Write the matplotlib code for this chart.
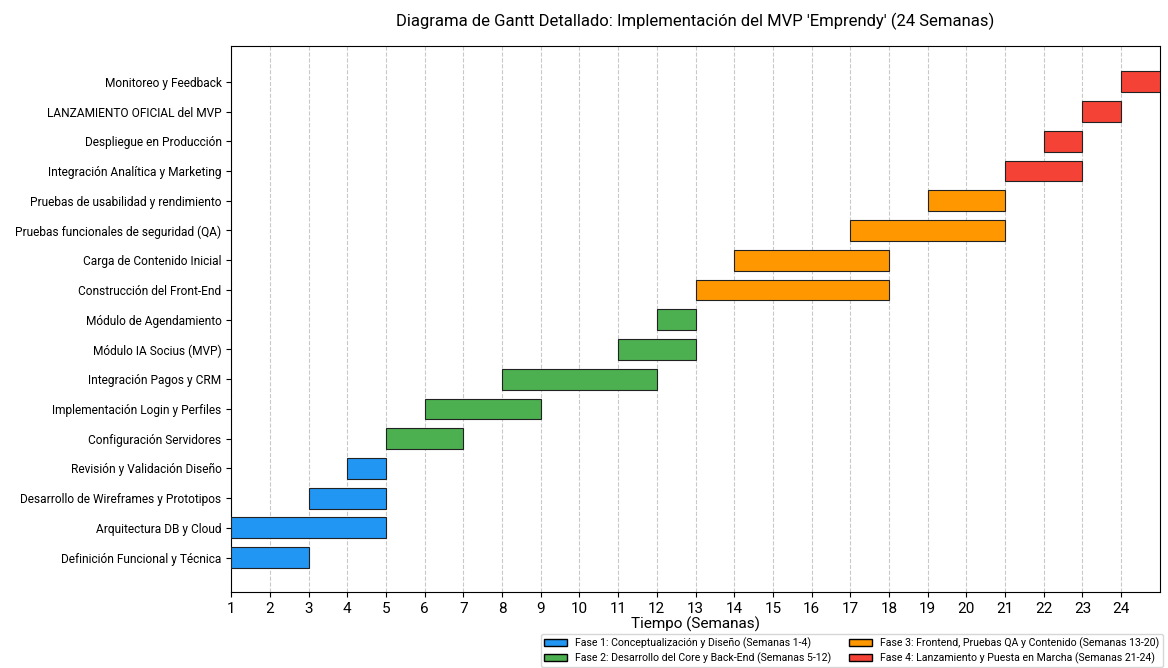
import matplotlib
matplotlib.use("Agg")
import matplotlib.pyplot as plt
from matplotlib.patches import Patch

plt.rcParams['font.family'] = ['Roboto', 'DejaVu Sans']

tasks = [
    "Definición Funcional y Técnica",
    "Arquitectura DB y Cloud",
    "Desarrollo de Wireframes y Prototipos",
    "Revisión y Validación Diseño",
    "Configuración Servidores",
    "Implementación Login y Perfiles",
    "Integración Pagos y CRM",
    "Módulo IA Socius (MVP)",
    "Módulo de Agendamiento",
    "Construcción del Front-End",
    "Carga de Contenido Inicial",
    "Pruebas funcionales de seguridad (QA)",
    "Pruebas de usabilidad y rendimiento",
    "Integración Analítica y Marketing",
    "Despliegue en Producción",
    "LANZAMIENTO OFICIAL del MVP",
    "Monitoreo y Feedback",
]
starts = [1, 1, 3, 4, 5, 6, 8, 11, 12, 13, 14, 17, 19, 21, 22, 23, 24]
ends = [3, 5, 5, 5, 7, 9, 12, 13, 13, 18, 18, 21, 21, 23, 23, 24, 25]
phases = [1, 1, 1, 1, 2, 2, 2, 2, 2, 3, 3, 3, 3, 4, 4, 4, 4]

phase_labels = [
    "Fase 1: Conceptualización y Diseño (Semanas 1-4)",
    "Fase 2: Desarrollo del Core y Back-End (Semanas 5-12)",
    "Fase 3: Frontend, Pruebas QA y Contenido (Semanas 13-20)",
    "Fase 4: Lanzamiento y Puesta en Marcha (Semanas 21-24)",
]
phase_colors = {1: "#2196F3", 2: "#4CAF50", 3: "#FF9800", 4: "#F44336"}
week_ticks = list(range(1, 25))

fig = plt.figure(figsize=(11.68, 6.68), dpi=100)
ax = fig.add_axes([0.198, 0.114, 0.795, 0.817])

for i, (s, e, p) in enumerate(zip(starts, ends, phases)):
    ax.barh(i, e - s, left=s, height=0.7, color=phase_colors[p],
            edgecolor="#222222", linewidth=0.8, zorder=3)

ax.set_yticks(range(len(tasks)))
ax.set_yticklabels(tasks, fontsize=8.6)
ax.set_ylim(-1.15, len(tasks) - 1 + 1.2)
ax.set_xlim(1, 25)
ax.set_xticks(week_ticks)
ax.tick_params(axis='x', labelsize=11)
ax.grid(axis='x', linestyle='--', color='#bbbbbb', alpha=0.8, zorder=0)
ax.set_xlabel("Tiempo (Semanas)", fontsize=11, labelpad=1)
ax.set_title("Diagrama de Gantt Detallado: Implementación del MVP 'Emprendy' (24 Semanas)",
             fontsize=12, pad=14)

handles = [Patch(facecolor=phase_colors[k + 1], edgecolor="black", label=lab)
           for k, lab in enumerate(phase_labels)]
fig.legend(handles=handles, loc="lower right", bbox_to_anchor=(1.0, -0.006),
           ncol=2, fontsize=7.6, frameon=True, handlelength=2.2,
           columnspacing=1.6, borderpad=0.3, labelspacing=0.3)

fig.savefig("out.png", dpi=100)
